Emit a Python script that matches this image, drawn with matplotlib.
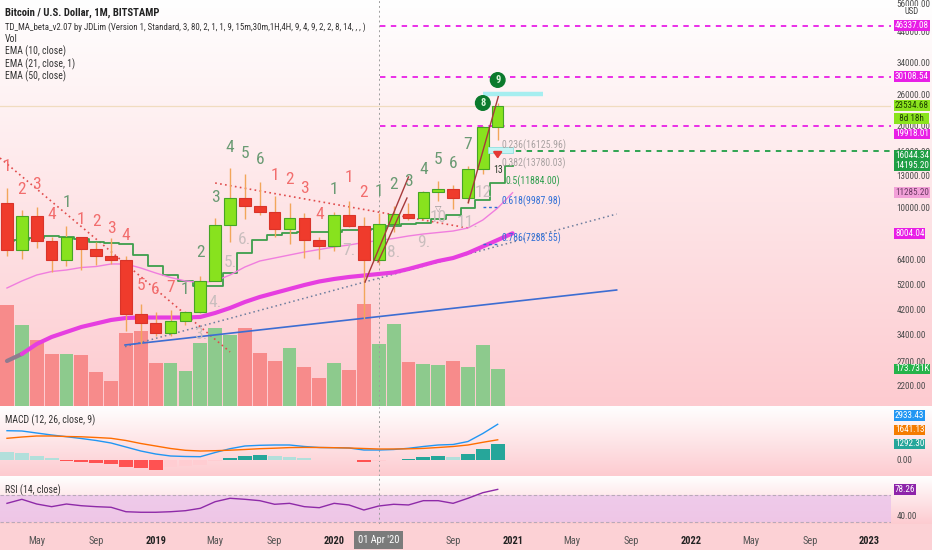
import numpy as np
import pandas as pd
import matplotlib
matplotlib.use("Agg")
import matplotlib.pyplot as plt
import matplotlib.transforms as mtransforms
from matplotlib import font_manager
from matplotlib.patches import Rectangle
from matplotlib.ticker import NullLocator

# ---------------- DATA ----------------
months = pd.period_range("2018-03", "2020-12", freq="M")
opens = [10326, 6926, 9246, 7494, 6391, 7729, 7033, 6626, 6371, 4041, 3742, 3437,
         3820, 4105, 5350, 8574, 10817, 10085, 9590, 8290, 9150, 7555, 7195, 9350,
         8530, 6410, 8625, 9455, 9135, 11335, 11645, 10780, 13800, 19700]
highs = [11700, 9760, 10020, 7780, 8500, 7750, 7420, 7680, 6600, 4390, 4100, 4200,
         4140, 5600, 9090, 13880, 13200, 12350, 10950, 10370, 9510, 7750, 9580, 10500,
         9190, 9470, 10070, 10380, 11440, 12470, 12060, 14100, 19900, 24100]
lows = [6600, 6430, 7050, 5750, 6070, 5880, 6100, 6200, 3500, 3150, 3350, 3370,
        3670, 4090, 5330, 7460, 9000, 9320, 7730, 7300, 6520, 6430, 6870, 8440,
        3867, 6150, 8120, 8930, 8980, 10520, 9820, 10370, 13200, 17600]
closes = [6926, 9246, 7494, 6391, 7729, 7033, 6626, 6371, 4041, 3742, 3437, 3820,
          4105, 5350, 8574, 10817, 10085, 9590, 8290, 9150, 7555, 7195, 9350, 8530,
          6410, 8625, 9455, 9135, 11335, 11645, 10780, 13800, 19700, 23534.68]
volume_k = [474, 380, 310, 244, 244, 239, 161, 117, 341, 354, 203, 203, 166, 294,
            368, 333, 365, 250, 211, 271, 185, 130, 200, 169, 479, 291, 385, 208,
            197, 193, 213, 182, 285, 173.731]
# EMA series start one month earlier (Feb 2018) and are drawn with offset 1
ema10 = [7502, 7567, 7694, 7826, 7779, 7608, 7457, 7375, 7314, 6663, 6070, 5626,
         5361, 5127, 5127, 5707, 6759, 7567, 7892, 8006, 8115, 8115, 8074, 8232,
         8232, 8281, 8514, 8660, 8757, 9034, 9346, 9890, 10610, 12220, 14195.20]
ema21 = [5040, 5348, 5626, 5794, 5869, 5994, 6045, 6175, 6175, 5969, 5722, 5508,
         5348, 5280, 5348, 5626, 6020, 6333, 6495, 6663, 6834, 6981, 7129, 7251,
         7407, 7533, 7661, 7826, 7958, 8059, 8162, 8373, 8959, 9915, 11285.20]
ema50 = [2718, 2884, 3138, 3330, 3474, 3624, 3733, 3845, 3910, 3926, 3926, 3926,
         3926, 3944, 4080, 4256, 4477, 4671, 4832, 4998, 5169, 5325, 5439, 5532,
         5602, 5674, 5746, 5918, 6123, 6333, 6495, 6776, 7160, 7567, 8004.04]
macd = [2399, 2374, 2207, 2041, 1899, 1749, 1583, 1374, 1041, 708, 458, 292, 250,
        233, 583, 900, 1125, 1183, 1208, 1208, 1083, 1000, 983, 958, 791, 791, 833,
        933, 1083, 1208, 1250, 1499, 2166, 2933.43]
signal = [1766, 1874, 1958, 1958, 1916, 1891, 1833, 1766, 1583, 1333, 1125, 916,
          766, 708, 733, 775, 833, 900, 941, 991, 1008, 1000, 983, 958, 916, 875,
          875, 891, 925, 1000, 1083, 1208, 1433, 1641.13]
hist = [650, 566, 317, 100, -108, -192, -308, -416, -583, -691, -833, -624, -516,
        -475, -150, 125, 292, 375, 292, 233, 150, -83, -75, -70, -192, -84, -42, 42,
        183, 317, 233, 433, 850, 1292.30]
rsi = [57.8, 63.7, 56.8, 52.9, 56.8, 54.3, 52.9, 52.0, 45.5, 44.7, 44.7, 45.5, 47.0,
       50.5, 60.2, 65.2, 63.7, 61.7, 56.4, 57.8, 52.9, 51.4, 57.8, 55.4, 48.0, 53.9,
       56.4, 55.4, 61.7, 61.7, 57.8, 65.2, 73.4, 78.26]

# TD sequential counts: (month index, price, label)
td_red = [(0, 14030, "1"), (1, 11550, "2"), (2, 12050, "3"), (3, 9350, "4"),
          (5, 8960, "1"), (6, 8880, "2"), (7, 8370, "3"), (8, 7890, "4"),
          (9, 5130, "5"), (10, 4960, "6"), (11, 5080, "7"),
          (18, 13110, "1"), (19, 12570, "2"), (20, 11740, "3"), (21, 9350, "4"),
          (23, 12890, "1"), (24, 11260, "2")]
td_green = [(4, 10430, "1"), (12, 4960, "1"), (13, 6780, "2"), (14, 10880, "3"),
            (15, 16610, "4"), (16, 15790, "5"), (17, 14890, "6"),
            (22, 11550, "1"), (25, 11380, "1"), (26, 12050, "2"), (27, 12360, "3"),
            (28, 13680, "4"), (29, 14890, "5"), (30, 14470, "6"), (31, 16900, "7")]
td_circle = [(32, 24110, "8"), (33, 29290, "9")]
td_count = [(13, 3414, "3."), (14, 4439, "4."), (15, 6279, "5."), (16, 7567, "6."),
            (23, 6950, "7."), (26, 6834, "8."), (28, 7437, "9."), (29, 9112, "10"),
            (31, 8736, "11."), (32, 11354, "12")]
td_small = [(33, 13677, "13")]

fib_levels = [16125.96, 13780.03, 11884.00, 9987.98, 7288.55]
fib_ratios = ["0.236", "0.382", "0.5", "0.618", "0.786"]

magenta_levels = [46337.08, 30108.54, 19918.01]
green_level = 16044.34

price_ticks = [2200, 2700, 3400, 4200, 5200, 6400, 8000, 10000, 13000, 16000,
               20000, 26000, 34000, 44000, 56000]
xtick_pos = [2, 6, 10, 14, 18, 22, 26, 30, 34, 38, 42, 46, 50, 54, 58]
xtick_lab = ["May", "Sep", "2019", "May", "Sep", "2020", "May", "Sep", "2021",
             "May", "Sep", "2022", "May", "Sep", "2023"]

# ---------------- FONTS ----------------
avail = {f.name for f in font_manager.fontManager.ttflist}
def pick(*names):
    for n in names:
        if n in avail:
            return n
    return "DejaVu Sans"
NARROW = pick("Liberation Sans Narrow", "Roboto Condensed", "Liberation Sans")
plt.rcParams["font.family"] = [NARROW, "DejaVu Sans"]

W, H = 932, 550
fig = plt.figure(figsize=(W / 100, H / 100), dpi=100)

def fx(px):
    return px / W

def fy(py):
    return 1 - py / H

# ---------------- BACKGROUND ----------------
bg = fig.add_axes([0, 0, 1, 1])
bg.set_xlim(0, W)
bg.set_ylim(H, 0)
bg.axis("off")
c_top = np.array([1.0, 1.0, 1.0])
c_bot = np.array([253, 203, 208]) / 255

def grad(y0, y1):
    t = np.linspace(0, 1, 256)[:, None]
    col = (1 - t) * c_top + t * c_bot
    img = np.repeat(col[:, None, :], 2, axis=1)
    bg.imshow(img, extent=(0, W, y1, y0), aspect="auto", interpolation="bilinear")

grad(0, 406.5)
grad(406.5, 476.5)
grad(476.5, 524)
bg.add_patch(Rectangle((0, 524), W, 26, color=(252 / 255, 209 / 255, 213 / 255)))
bg.set_xlim(0, W)
bg.set_ylim(H, 0)

XL = (-0.47, 59.45)
PLOT_W = 891 / W
rect_main = [0, fy(406), PLOT_W, 406 / H]
rect_macd = [0, fy(476), PLOT_W, 69 / H]
rect_rsi = [0, fy(524), PLOT_W, 47 / H]

x = np.arange(len(months))
o = np.array(opens, float)
h = np.array(highs, float)
l = np.array(lows, float)
c = np.array(closes, float)
up = c >= o

AXFS = 6.6  # right-axis font size

# ---------------- VOLUME ----------------
axv = fig.add_axes(rect_main)
axv.set_facecolor("none")
axv.bar(x, volume_k, width=0.93, color=np.where(up, "#8dca8d", "#f78b8b"), zorder=1)
axv.set_xlim(XL)
axv.set_ylim(0, 1906)
axv.axis("off")

# ---------------- PRICE ----------------
ax = fig.add_axes(rect_main)
ax.set_facecolor("none")
ax.set_yscale("log")
ax.set_xlim(XL)
ax.set_ylim(1857, 57630)
for s in ax.spines.values():
    s.set_visible(False)

xe = np.arange(len(ema10))  # offset 1 bar
ax.plot(xe, ema10, drawstyle="steps-mid", color="#3d9e4c", lw=1.3, zorder=3)
ax.plot(xe, ema21, color="#f07ede", lw=1.0, zorder=3)
ax.plot(xe[:2], ema50[:2], color="#8f7b8f", lw=3, zorder=3, solid_capstyle="round")
ax.plot(xe[1:], ema50[1:], color="#e63ee0", lw=3, zorder=3, solid_capstyle="round")

# price line
ax.axhline(closes[-1], color="#f1dcc0", lw=0.9, zorder=2)

# trend lines
ax.plot([-0.47, 15.0], [15136, 2934], color="#e04b4b", lw=1.2, ls=(0, (1, 2)), zorder=2)
ax.plot([14.0, 31.0], [12253, 8374], color="#e04b4b", lw=1.2, ls=(0, (1, 2)), zorder=2)
ax.plot([7.94, 41.0], [3068, 9425], color="#6d7d9e", lw=1.1, ls=(0, (1, 2)), zorder=2)
ax.plot([7.94, 41.0], [3112, 4955], color="#3d6dd2", lw=1.2, zorder=2)
ax.plot([24.08, 27.0], [5300, 12891], color="#a63a3a", lw=1.0, zorder=6)
ax.plot([24.95, 26.9], [6280, 10790], color="#a63a3a", lw=1.0, zorder=6)
ax.plot([31.02, 33.04], [10370, 25440], color="#a63a3a", lw=1.0, zorder=6)

# horizontal levels
ax.hlines(magenta_levels, 25.08, XL[1], colors="#e81ee6", lw=1.3, ls=(0, (3, 3)), zorder=2)
ax.hlines(green_level, 33.5, XL[1], colors="#1f9e45", lw=1.3, ls=(0, (3, 3)), zorder=2)

# candles
ax.vlines(x, l, h, color="#f2a65a", lw=1.0, zorder=4)
ax.bar(x, np.abs(c - o), bottom=np.minimum(o, c), width=0.78,
       color=np.where(up, "#88e21e", "#ef3b2c"),
       edgecolor=np.where(up, "#45a524", "#d9342a"), lw=0.8, zorder=5)

# TD indicator extras
ax.plot([32.0, 36.05], [26010, 26010], color="#a6eef0", lw=3.2, zorder=5, solid_capstyle="butt")
ax.add_patch(Rectangle((32.35, 15790), 1.68, 16610 - 15790, fc="#c4f4f4", ec="#8fe0e0",
                       lw=0.6, zorder=5))
ax.annotate("", xy=(33, 14700), xytext=(33, 16300),
            arrowprops=dict(arrowstyle="-|>,head_width=0.25,head_length=0.35",
                            color="#e53935", lw=1.6), zorder=8)

for i, p, t in td_red:
    ax.text(i, p, t, ha="center", va="center", fontsize=12.5, color="#f26d6d", zorder=7)
for i, p, t in td_green:
    ax.text(i, p, t, ha="center", va="center", fontsize=12.5, color="#6a9a73", zorder=7)
for i, p, t in td_count:
    ax.text(i, p, t, ha="center", va="center", fontsize=12.5, color="#c9bebe", zorder=7)
for i, p, t in td_small:
    ax.text(i, p, t, ha="center", va="center", fontsize=7, color="#2a3a2a", zorder=7)
for i, p, t in td_circle:
    ax.text(i, p, t, ha="center", va="center", fontsize=7.5, color="#d8f5d8",
            fontweight="bold", zorder=8,
            bbox=dict(boxstyle="circle,pad=0.22", fc="#0b7a2c", ec="#0b7a2c"))
ax.text(29, 9916, "\u25bd", ha="center", va="center", fontsize=6, color="#909090",
        family="DejaVu Sans", zorder=7)

# fib labels
fib_cols = ["#a9a2a2", "#a9a2a2", "#2e9e4e", "#2f6fd6", "#2f6fd6"]
fib_x = [33.25, 33.25, 33.5, 33.25, 33.25]
for lv, r, col, fxi in zip(fib_levels, fib_ratios, fib_cols, fib_x):
    ax.text(fxi, lv, f"{r}({lv:.2f})", ha="left", va="bottom", fontsize=7, color=col, zorder=7)
ax.hlines(fib_levels[3:], 32.0, 32.95, colors="#2f6fd6", lw=1, ls=(0, (2, 2)), zorder=6)

# price axis
ax.yaxis.tick_right()
ax.set_yticks(price_ticks)
ax.set_yticklabels([f"{v:.2f}" for v in price_ticks])
ax.yaxis.set_minor_locator(NullLocator())
ax.tick_params(axis="y", length=0, pad=4.0, labelsize=AXFS, labelcolor="#4d4d4d")
ax.tick_params(axis="x", length=0, labelbottom=False)


def tag(axis, y, text, fc, tc="white", dy=0.0, ytrans=None):
    tr = mtransforms.blended_transform_factory(axis.transAxes,
                                               ytrans if ytrans is not None else axis.transData)
    axis.annotate(text, xy=(1.0, y), xycoords=tr, xytext=(2.9, -dy * 0.72),
                  textcoords="offset points", ha="left", va="center", fontsize=AXFS,
                  color=tc, annotation_clip=False, zorder=30,
                  bbox=dict(boxstyle="square,pad=0.1", fc=fc, ec="none"))

MAG = "#e81ee6"
tag(ax, 46337.08, "46337.08", MAG)
tag(ax, 30108.54, "30108.54", MAG)
tag(ax, closes[-1], f"{closes[-1]:.2f}", "#8be31d", tc="#1d3f00")
tag(ax, closes[-1], "  8d 18h  ", "#8be31d", tc="#1d3f00", dy=13)
tag(ax, 19918.01, "19918.01", MAG, dy=8.4)
tag(ax, 16044.34, "16044.34", "#1f9e45", dy=4.0)
tag(ax, ema10[-1], f"{ema10[-1]:.2f}", "#1f9e45", dy=-0.3)
tag(ax, ema21[-1], f"{ema21[-1]:.2f}", "#f2a0d8", tc="#6b3a63")
tag(ax, ema50[-1], f"{ema50[-1]:.2f}", MAG)
tag(ax, volume_k[-1], f"{volume_k[-1]:.3f}K", "#25b34a", ytrans=axv.transData)

# ---------------- MACD ----------------
axm = fig.add_axes(rect_macd)
axm.set_facecolor("none")
for s in axm.spines.values():
    s.set_visible(False)
hcol = []
for k, v in enumerate(hist):
    prev = hist[k - 1] if k > 0 else v
    if v >= 0:
        hcol.append("#26a69a" if v > prev else "#b2dfdb")
    else:
        hcol.append("#ffcdd2" if v > prev else "#ff5252")
axm.bar(x, hist, width=0.93, color=hcol, zorder=2)
axm.plot(x, macd, color="#2196f3", lw=1.0, zorder=3)
axm.plot(x, signal, color="#ff6d00", lw=1.0, zorder=3)
axm.set_xlim(XL)
axm.set_ylim(-1374, 4373)
axm.yaxis.tick_right()
axm.set_yticks([0])
axm.set_yticklabels(["0.00"])
axm.tick_params(axis="y", length=0, pad=4.0, labelsize=AXFS, labelcolor="#4d4d4d")
axm.tick_params(axis="x", length=0, labelbottom=False)
tag(axm, macd[-1], f"{macd[-1]:.2f}", "#2196f3", dy=-8.6)
tag(axm, signal[-1], f"{signal[-1]:.2f}", "#f57c00", dy=-9.8)
tag(axm, hist[-1], f"{hist[-1]:.2f}", "#26a69a")

# ---------------- RSI ----------------
axr = fig.add_axes(rect_rsi)
axr.set_facecolor("none")
for s in axr.spines.values():
    s.set_visible(False)
axr.axhspan(30, 70, color="#ecc5ea", alpha=0.85, lw=0, zorder=1)
axr.axhline(70, color="#b9a9b9", lw=0.8, ls=(0, (3, 2)), zorder=2)
axr.axhline(30, color="#b9a9b9", lw=0.8, ls=(0, (3, 2)), zorder=2)
axr.plot(x, rsi, color="#8e2aa8", lw=1.0, zorder=3)
axr.set_xlim(XL)
axr.set_ylim(27.5, 96.4)
axr.yaxis.tick_right()
axr.set_yticks([40])
axr.set_yticklabels(["40.00"])
axr.tick_params(axis="y", length=0, pad=4.0, labelsize=AXFS, labelcolor="#4d4d4d")
tag(axr, rsi[-1], f"{rsi[-1]:.2f}", "#8e24aa")
axr.set_xticks(xtick_pos)
axr.set_xticklabels(xtick_lab)
axr.tick_params(axis="x", length=0, pad=9, labelsize=7.5)
for lab in axr.get_xticklabels():
    if lab.get_text().isdigit():
        lab.set_fontweight("bold")
        lab.set_color("#222222")
    else:
        lab.set_color("#555555")
axr.annotate("01 Apr '20", xy=(25, 0), xycoords=("data", "axes fraction"),
             xytext=(0, -11.5), textcoords="offset points", ha="center", va="center",
             fontsize=7.5, color="white", annotation_clip=False, zorder=30,
             bbox=dict(boxstyle="square,pad=0.35", fc="#7b7b7b", ec="none"))

# crosshair
for a in (ax, axm, axr):
    a.axvline(25, color="#9e9e9e", lw=0.7, ls=(0, (2, 3)), zorder=1)

# ---------------- LEGEND TEXT ----------------
fig.text(fx(5), fy(13.3), "Bitcoin / U.S. Dollar, 1M, BITSTAMP", fontsize=7.7,
         fontweight="bold", color="#222222", va="center")
legend_lines = ["TD_MA_beta_v2.07 by JDLim (Version 1, Standard, 3, 80, 2, 1, 1, 9, "
                "15m,30m,1H,4H, 9, 4, 9, 2, 2, 8, 14, , , )",
                "Vol", "EMA (10, close)", "EMA (21, close, 1)", "EMA (50, close)"]
for k, t in enumerate(legend_lines):
    fig.text(fx(5), fy(27 + 12.3 * k), t, fontsize=6.4 if k == 0 else 7,
             color="#333333", va="center")
fig.text(fx(5), fy(420), "MACD (12, 26, close, 9)", fontsize=7, color="#333333", va="center")
fig.text(fx(5), fy(490), "RSI (14, close)", fontsize=7, color="#333333", va="center")
fig.text(fx(912), fy(12), "USD", fontsize=6.3, color="#444444", ha="center", va="center",
         bbox=dict(boxstyle="square,pad=0.12", fc="white", ec="none"))

fig.savefig("out.png", dpi=100)
